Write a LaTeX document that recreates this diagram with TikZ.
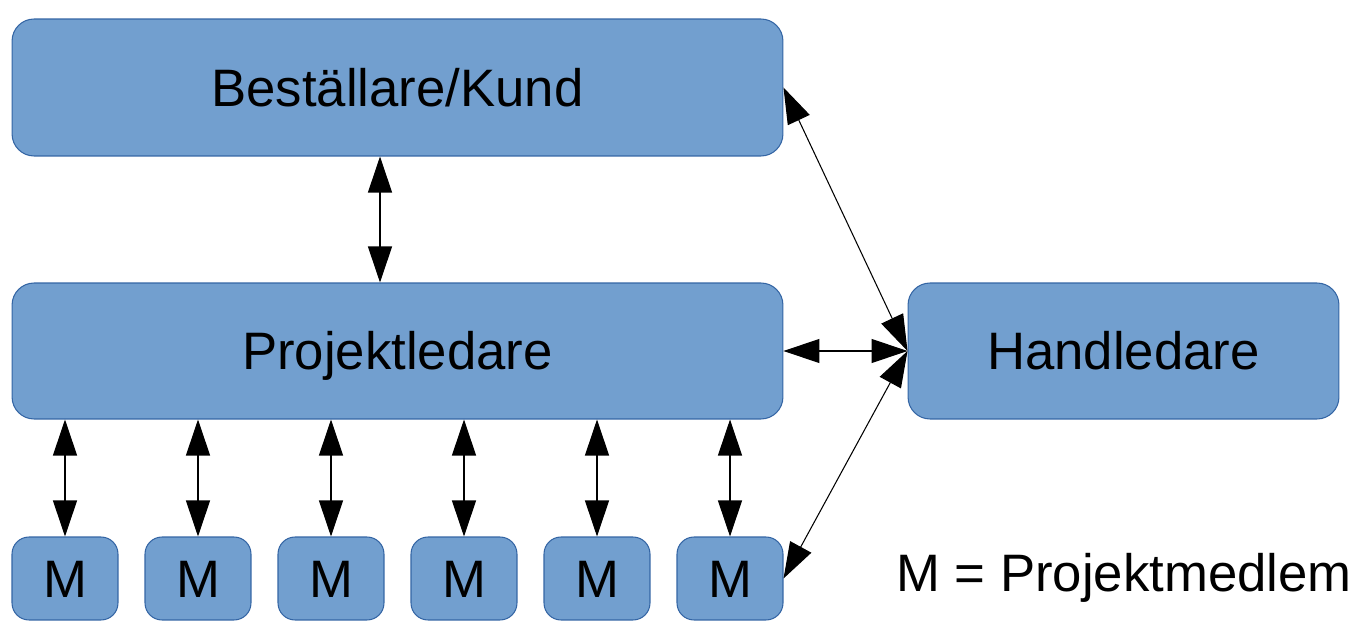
\documentclass[tikz,border=0pt]{standalone}
\usepackage{fontspec}
\setmainfont{Liberation Sans}
\usetikzlibrary{arrows.meta}
\definecolor{boxfill}{HTML}{729FCF}
\definecolor{boxline}{HTML}{3465A4}
\begin{document}
\begin{tikzpicture}[x=0.02cm,y=-0.02cm,
  box/.style={draw=boxline,line width=0.6pt,fill=boxfill,rounded corners=0.44cm,inner sep=0pt,font=\fontsize{30}{36}\selectfont,text height=21.5pt,text depth=0pt},
  mbox/.style={box,rounded corners=0.34cm,minimum width=2.12cm,minimum height=1.66cm},
  link/.style={line width=0.6pt,{Triangle[length=0.72cm,width=0.48cm]}-{Triangle[length=0.72cm,width=0.48cm]}}]
\useasboundingbox (0,0) rectangle (1366,631);
\node[box,minimum width=15.42cm,minimum height=2.74cm] (B) at (397.5,87.5) {Beställare/Kund};
\node[box,minimum width=15.42cm,minimum height=2.72cm] (P) at (397.5,351) {Projektledare};
\node[box,minimum width=8.62cm,minimum height=2.72cm] (H) at (1123.5,351) {Handledare};
\foreach \i/\x in {1/65,2/198,3/331,4/464,5/597,6/730}{
  \node[mbox] (M\i) at (\x,578.5) {M};
  \draw[link] (P.south -| M\i.north) -- (M\i.north);
}
\node[font=\fontsize{30}{36}\selectfont,text height=21.5pt,text depth=0pt,inner sep=0pt] (L) at (1124,573) {M = Projektmedlem};
\draw[link] (B.south -| 380,0) -- (P.north -| 380,0);
\draw[link] (P.east) -- (H.west);
\draw[link] (B.east) -- (H.west);
\draw[link] (M6.east) -- (H.west);
\end{tikzpicture}
\end{document}
